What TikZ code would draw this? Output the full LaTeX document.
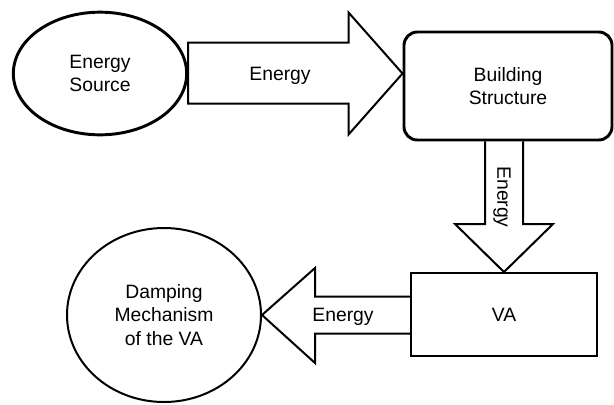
\documentclass[tikz,border=0pt]{standalone}
\usepackage{fontspec}
\setmainfont{Liberation Sans}
\usetikzlibrary{shapes.geometric,calc}

\begin{document}
\begin{tikzpicture}[x=0.75pt,y=-0.75pt,
   every node/.style={font=\fontsize{14.5}{17.5}\selectfont,align=center},
   bubble/.style={ellipse,draw,inner sep=0pt},
   blockbox/.style={rectangle,draw,inner sep=0pt},
   blk/.style={draw,line width=1.5pt,line join=miter}]
  \useasboundingbox (0,0) rectangle (614,404);
  \node[bubble,line width=2.2pt,minimum width=130pt,minimum height=92pt](src) at (100,73.5){Energy\\Source};
  \node[blockbox,line width=2.2pt,rounded corners=10pt,minimum width=156pt,minimum height=81pt](bldg) at (508,86){Building\\Structure};
  \node[blockbox,line width=1.5pt,minimum width=139.5pt,minimum height=62.25pt](va) at (504,314.5){VA};
  \node[bubble,line width=1.5pt,minimum width=145.5pt,minimum height=130.5pt](damp) at (164,315){Damping\\Mechanism\\of the VA};
  \coordinate (tipA) at (bldg.west |- src.east);
  \coordinate (tailB) at (va.north |- bldg.south);
  % block arrows
  \draw[blk] ($(src.east)+(0,-31)$) -| ($(tipA)+(-54,-61)$) -- (tipA) -- ($(tipA)+(-54,61)$) |- ($(src.east)+(0,30)$) -- cycle;
  \draw[blk] ($(tailB)+(-19,0)$) |- ($(va.north)+(-49,-48)$) -- (va.north) -- ($(va.north)+(49,-48)$) -| ($(tailB)+(19,0)$);
  \draw[blk] ($(va.west)+(0,-18)$) -| ($(damp.east)+(53,-47)$) -- (damp.east) -- ($(damp.east)+(53,48)$) |- ($(va.west)+(0,19)$);
  \node(eA) at (280,76){Energy};
  \node[rotate=-90](eB) at (502,197){Energy};
  \node(eC) at (343,317){Energy};
\end{tikzpicture}
\end{document}
